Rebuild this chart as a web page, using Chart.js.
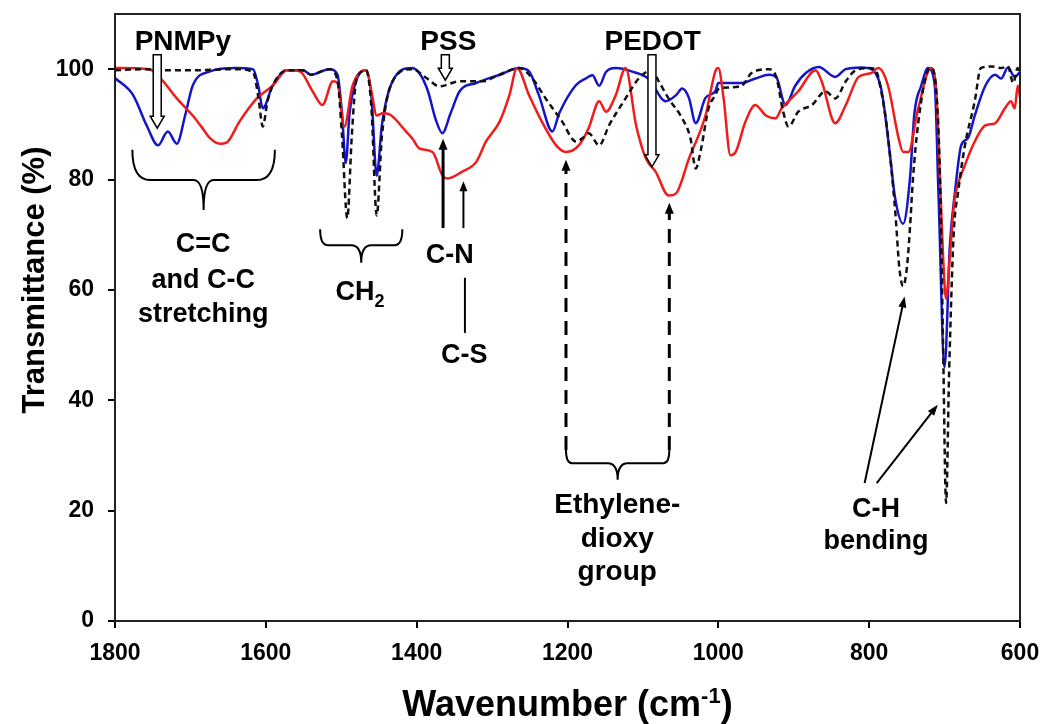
<!DOCTYPE html>
<html>
<head>
<meta charset="utf-8">
<script src="https://cdn.jsdelivr.net/npm/chart.js@4.4.1/dist/chart.umd.min.js"></script>
<style>
  html, body { margin: 0; padding: 0; background: #fff; }
  #wrap { width: 1042px; height: 724px; }
</style>
</head>
<body>
<div id="wrap"><canvas id="ftir" width="1042" height="724"></canvas></div>
<script>
// wavenumber (cm-1) / transmittance (%)
const blueWn = [1800, 1776, 1758, 1743, 1730, 1718, 1707, 1697, 1674, 1640, 1617, 1610, 1604, 1591, 1572, 1551, 1540, 1516, 1505, 1499, 1494, 1489, 1480, 1467, 1460, 1453, 1446, 1432, 1406, 1395, 1385, 1375, 1366, 1355, 1343, 1321, 1290, 1264, 1251, 1238, 1220, 1211, 1189, 1176, 1167, 1158, 1149, 1136, 1115, 1092, 1070, 1056, 1048, 1039, 1030, 1017, 1004, 1000, 969, 951, 933, 923, 911, 898, 884, 867, 845, 831, 810, 797, 785, 780, 772, 766, 755, 746, 740, 731, 722, 713, 708, 700, 693, 686, 678, 669, 660, 646, 633, 625, 616, 607, 600];
const blueT  = [98.4, 95.3, 89.8, 86.2, 88.7, 86.5, 91.6, 97, 99.6, 100.2, 100, 97, 92.9, 97, 99.8, 99.8, 99, 100, 99, 92, 83, 92, 98, 99.8, 95, 80.7, 90, 97.8, 100.2, 99, 96, 91, 88.4, 92, 96, 97.5, 99, 100.2, 99.6, 95.3, 88.7, 92, 97.1, 98.3, 98.9, 97, 99.5, 100.2, 99.6, 98.2, 94.2, 95.3, 96.5, 94.8, 90.2, 94.8, 96, 97.5, 97.5, 98.3, 99, 98.5, 93.5, 97, 99.3, 100.4, 98.6, 100, 100.3, 100, 97, 93, 84, 77, 72, 80, 92, 97, 100.2, 97, 77, 46, 68, 78, 86.2, 87.5, 91.6, 97, 99, 98.3, 100.3, 98.6, 99.5];

const redWn = [1800, 1754, 1745, 1736, 1718, 1697, 1685, 1674, 1661, 1652, 1635, 1612, 1591, 1572, 1555, 1538, 1525, 1511, 1505, 1496, 1485, 1467, 1460, 1453, 1445, 1436, 1414, 1406, 1396, 1379, 1366, 1359, 1340, 1321, 1308, 1290, 1277, 1267, 1251, 1234, 1215, 1202, 1185, 1172, 1158, 1149, 1136, 1123, 1109, 1096, 1083, 1066, 1056, 1039, 1017, 1004, 1000, 993, 984, 977, 964, 951, 937, 924, 916, 907, 894, 871, 863, 845, 831, 814, 797, 788, 775, 761, 755, 748, 735, 718, 711, 706, 702, 698, 693, 688, 686, 673, 660, 646, 633, 620, 612, 607, 603, 600];
const redT  = [100.2, 100, 99, 97.8, 94.7, 91.6, 89.5, 87.5, 86.5, 86.7, 90.5, 94.7, 97, 99.8, 99.6, 96, 93.5, 97.8, 97.5, 89.6, 97, 99.8, 96, 91.6, 92, 91.8, 88.7, 87.5, 85.6, 85, 80.8, 80.2, 81.4, 83.2, 86.9, 90.5, 95.3, 100.2, 95.3, 90.5, 86.2, 85, 86.2, 89.3, 94.2, 92.3, 95.3, 100.2, 89.8, 83.8, 81.4, 77.1, 77.5, 83.8, 91.6, 99.6, 100.2, 94.7, 84.4, 85, 90.5, 93.5, 91.6, 91.1, 92.9, 94.2, 96, 99.8, 97.8, 90.2, 93.5, 98.6, 99.3, 100.2, 97, 87.5, 85, 85, 92.9, 100.2, 96, 80, 66, 58.4, 66, 75, 77.1, 82.6, 86.9, 89.8, 90.2, 92.9, 94.2, 92.9, 97, 95];

const blackWn = [1800, 1760, 1740, 1700, 1640, 1617, 1610, 1604, 1598, 1591, 1572, 1551, 1540, 1516, 1505, 1499, 1492, 1486, 1480, 1467, 1460, 1453, 1446, 1432, 1406, 1387, 1370, 1343, 1313, 1290, 1264, 1247, 1229, 1207, 1189, 1180, 1172, 1158, 1145, 1123, 1105, 1088, 1079, 1066, 1048, 1037, 1030, 1023, 1013, 1004, 1000, 986, 969, 956, 933, 923, 914, 907, 894, 876, 858, 845, 831, 818, 801, 792, 784, 777, 771, 765, 760, 755, 750, 746, 742, 735, 722, 718, 711, 706, 702, 698, 694, 688, 682, 673, 660, 652, 638, 625, 616, 609, 603, 600];
const blackT  = [99.8, 100, 99.8, 99.8, 100, 99.5, 95, 89.6, 94, 97, 99.8, 99.8, 99, 100, 98, 88, 73, 88, 98, 99.8, 93, 73.5, 88, 97.8, 100, 98.4, 96.9, 97.8, 97.8, 99, 100.2, 98.4, 94.7, 90.5, 86.9, 87.5, 88.4, 86.2, 89.8, 94.7, 98.4, 99.8, 97.8, 94.7, 91.1, 87.5, 82, 85.5, 92.9, 95.3, 96.4, 96.7, 97, 99.3, 100, 98.5, 92.3, 89.6, 92.3, 93.5, 96, 94.7, 97.8, 99.8, 100.2, 100, 96, 90, 82.6, 73.5, 64, 60.7, 64, 71, 80, 90.2, 99.8, 100.2, 96, 80, 50, 21.4, 45, 70, 77.8, 86.2, 94.2, 100.2, 100.5, 100.2, 100.5, 97.5, 100.2, 99];

const xTicks = [1800, 1600, 1400, 1200, 1000, 800, 600];
const yTicks = [0, 20, 40, 60, 80, 100];

const pts = (wn, t) => wn.map((w, i) => ({ x: w, y: t[i] }));
const FONT = '"Liberation Sans", Arial, Helvetica, sans-serif';

function arrow(ctx, x1, y1, x2, y2, lw, hl, hw, dash) {
    const a = Math.atan2(y2 - y1, x2 - x1);
    ctx.save();
    ctx.strokeStyle = '#000';
    ctx.fillStyle = '#000';
    ctx.lineWidth = lw;
    if (dash) ctx.setLineDash(dash);
    ctx.beginPath();
    ctx.moveTo(x1, y1);
    ctx.lineTo(x2 - Math.cos(a) * hl * 0.8, y2 - Math.sin(a) * hl * 0.8);
    ctx.stroke();
    ctx.setLineDash([]);
    ctx.translate(x2, y2);
    ctx.rotate(a);
    ctx.beginPath();
    ctx.moveTo(0, 0);
    ctx.lineTo(-hl, -hw / 2);
    ctx.lineTo(-hl, hw / 2);
    ctx.closePath();
    ctx.fill();
    ctx.restore();
}

// open (white) arrow pointing down
function hollowArrow(ctx, x, yTop, yTip) {
    const sw = 4, hw = 7, hl = 12;
    ctx.save();
    ctx.beginPath();
    ctx.moveTo(x - sw, yTop);
    ctx.lineTo(x + sw, yTop);
    ctx.lineTo(x + sw, yTip - hl);
    ctx.lineTo(x + hw, yTip - hl);
    ctx.lineTo(x, yTip);
    ctx.lineTo(x - hw, yTip - hl);
    ctx.lineTo(x - sw, yTip - hl);
    ctx.closePath();
    ctx.fillStyle = '#fff';
    ctx.fill();
    ctx.strokeStyle = '#000';
    ctx.lineWidth = 1.5;
    ctx.stroke();
    ctx.restore();
}

// curly brace opening upwards, tip pointing down
function brace(ctx, x0, x1, yTop, yMid, yTip, r) {
    const xc = (x0 + x1) / 2;
    const rc = Math.min(10, (yTip - yMid));
    ctx.save();
    ctx.strokeStyle = '#000';
    ctx.lineWidth = 2;
    ctx.beginPath();
    ctx.moveTo(x0, yTop);
    ctx.quadraticCurveTo(x0, yMid, x0 + r, yMid);
    ctx.lineTo(xc - rc, yMid);
    ctx.quadraticCurveTo(xc, yMid, xc, yTip);
    ctx.quadraticCurveTo(xc, yMid, xc + rc, yMid);
    ctx.lineTo(x1 - r, yMid);
    ctx.quadraticCurveTo(x1, yMid, x1, yTop);
    ctx.stroke();
    ctx.restore();
}

function label(ctx, text, x, y, size) {
    ctx.font = 'bold ' + size + 'px ' + FONT;
    ctx.textAlign = 'center';
    ctx.textBaseline = 'alphabetic';
    ctx.fillStyle = '#000';
    ctx.fillText(text, x, y);
}

const notes = {
    id: 'notes',
    afterDatasetsDraw(chart) {
        const { ctx, chartArea: ca } = chart;
        const X = v => chart.scales.x.getPixelForValue(v);
        const Y = v => chart.scales.y.getPixelForValue(v);

        // frame
        ctx.save();
        ctx.strokeStyle = '#222';
        ctx.lineWidth = 2;
        ctx.strokeRect(ca.left, ca.top, ca.right - ca.left, ca.bottom - ca.top);
        ctx.restore();

        // top labels with open arrows
        label(ctx, 'PNMPy', X(1710), Y(103.5), 28);
        hollowArrow(ctx, X(1744), Y(102.6), Y(89.3));
        label(ctx, 'PSS', X(1358), Y(103.5), 28);
        hollowArrow(ctx, X(1362), Y(102.6), Y(98));
        label(ctx, 'PEDOT', X(1087), Y(103.5), 28);
        hollowArrow(ctx, X(1088), Y(102.6), Y(82.3));

        // C=C and C-C stretching
        brace(ctx, X(1777), X(1588), Y(85.4), Y(79.9), Y(74.5), 18);
        label(ctx, 'C=C', X(1683), Y(66.9), 27);
        label(ctx, 'and C-C', X(1683), Y(60.3), 27);
        label(ctx, 'stretching', X(1683), Y(54.2), 27);

        // CH2
        brace(ctx, X(1528), X(1419), Y(71.0), Y(68.1), Y(64.9), 8);
        ctx.font = 'bold 27px ' + FONT;
        const wCH = ctx.measureText('CH').width;
        ctx.font = 'bold 18px ' + FONT;
        const w2 = ctx.measureText('2').width;
        const cx = X(1475) - (wCH + w2) / 2;
        ctx.textAlign = 'left';
        ctx.font = 'bold 27px ' + FONT;
        ctx.fillText('CH', cx, Y(58.2));
        ctx.font = 'bold 18px ' + FONT;
        ctx.fillText('2', cx + wCH, Y(58.2) + 7);

        // C-N / C-S
        arrow(ctx, X(1365), Y(71.2), X(1365), Y(87.4), 3, 11, 9);
        arrow(ctx, X(1338), Y(71.2), X(1338), Y(79.7), 2, 10, 8);
        ctx.save();
        ctx.lineWidth = 2;
        ctx.beginPath();
        ctx.moveTo(X(1336), Y(62.2));
        ctx.lineTo(X(1336), Y(52.2));
        ctx.stroke();
        ctx.restore();
        label(ctx, 'C-N', X(1356), Y(64.9), 27);
        label(ctx, 'C-S', X(1337), Y(46.8), 27);

        // Ethylenedioxy group
        arrow(ctx, X(1202), Y(31.0), X(1202), Y(83.6), 3, 11, 9, [14, 9]);
        arrow(ctx, X(1065), Y(31.0), X(1065), Y(75.8), 3, 11, 9, [14, 9]);
        brace(ctx, X(1202), X(1065), Y(31.0), Y(28.6), Y(25.6), 6);
        label(ctx, 'Ethylene-', X(1134), Y(19.6), 28);
        label(ctx, 'dioxy', X(1134), Y(13.4), 28);
        label(ctx, 'group', X(1134), Y(7.4), 28);

        // C-H bending
        arrow(ctx, X(806), Y(25.0), X(753), Y(58.8), 2, 11, 8);
        arrow(ctx, X(790), Y(25.0), X(709), Y(39.2), 2, 11, 8);
        label(ctx, 'C-H', X(791), Y(18.8), 27);
        label(ctx, 'bending', X(791), Y(13.0), 27);

        // axis titles
        ctx.save();
        ctx.fillStyle = '#000';
        ctx.translate(44, 280);
        ctx.rotate(-Math.PI / 2);
        ctx.font = 'bold 31px ' + FONT;
        ctx.textAlign = 'center';
        ctx.fillText('Transmittance (%)', 0, 0);
        ctx.restore();

        ctx.save();
        ctx.fillStyle = '#000';
        ctx.textAlign = 'left';
        const big = 'bold 36px ' + FONT, small = 'bold 22px ' + FONT;
        ctx.font = big;
        const wa = ctx.measureText('Wavenumber (cm').width;
        const wc = ctx.measureText(')').width;
        ctx.font = small;
        const wb = ctx.measureText('-1').width;
        const x0 = (ca.left + ca.right) / 2 - (wa + wb + wc) / 2;
        const by = 716;
        ctx.font = big;
        ctx.fillText('Wavenumber (cm', x0, by);
        ctx.font = small;
        ctx.fillText('-1', x0 + wa, by - 13);
        ctx.font = big;
        ctx.fillText(')', x0 + wa + wb, by);
        ctx.restore();
    }
};

new Chart(document.getElementById('ftir'), {
    type: 'line',
    data: {
        datasets: [
            { label: 'black', data: pts(blackWn, blackT), borderColor: '#111', borderWidth: 2.5, borderDash: [6, 4], order: 0 },
            { label: 'red', data: pts(redWn, redT), borderColor: '#f01c1c', borderWidth: 2.5, order: 1 },
            { label: 'blue', data: pts(blueWn, blueT), borderColor: '#1515c8', borderWidth: 2.5, order: 2 }
        ]
    },
    options: {
        responsive: false,
        animation: false,
        parsing: false,
        elements: { point: { radius: 0 }, line: { cubicInterpolationMode: 'monotone', fill: false } },
        layout: { padding: { top: 14, right: 22, left: 0, bottom: 0 } },
        plugins: { legend: { display: false }, tooltip: { enabled: false } },
        scales: {
            x: {
                type: 'linear', reverse: true, min: 600, max: 1800,
                afterFit: s => { s.height = 103; s.paddingLeft = 0; s.paddingRight = 0; },
                afterBuildTicks: s => { s.ticks = xTicks.map(v => ({ value: v })); },
                ticks: { color: '#000', padding: 12, maxRotation: 0, callback: v => String(v), font: { family: FONT, size: 23, weight: 'bold' } },
                grid: { drawOnChartArea: false, tickLength: 7, color: '#000', lineWidth: 2 },
                border: { color: '#222', width: 2 }
            },
            y: {
                type: 'linear', min: 0, max: 110,
                afterFit: s => { s.width = 115; s.paddingTop = 0; s.paddingBottom = 0; },
                afterBuildTicks: s => { s.ticks = yTicks.map(v => ({ value: v })); },
                ticks: { color: '#000', padding: 14, callback: v => String(v), font: { family: FONT, size: 23, weight: 'bold' } },
                grid: { drawOnChartArea: false, tickLength: 7, color: '#000', lineWidth: 2 },
                border: { color: '#222', width: 2 }
            }
        }
    },
    plugins: [notes]
});
</script>
</body>
</html>
